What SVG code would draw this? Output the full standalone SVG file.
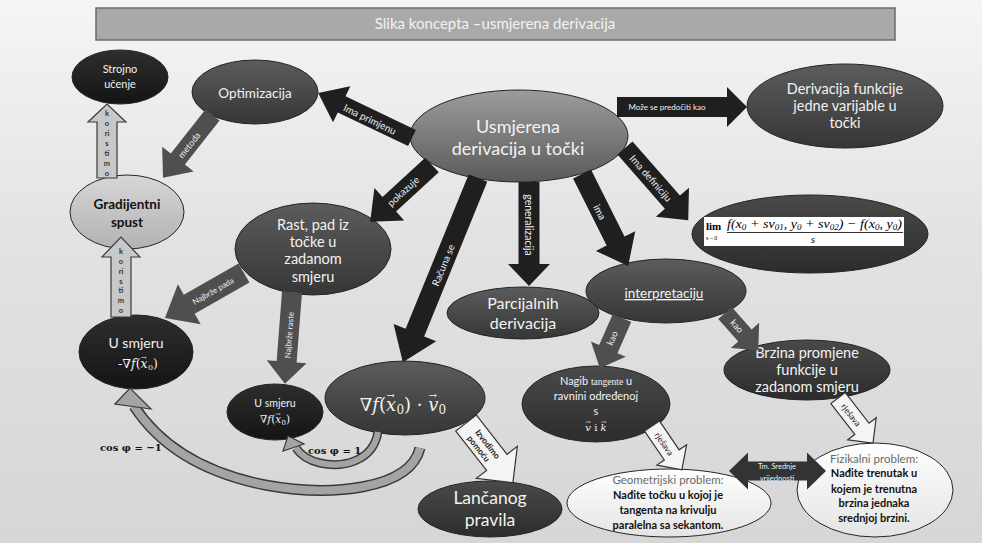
<svg xmlns="http://www.w3.org/2000/svg" width="982" height="543" viewBox="0 0 982 543">
<defs>
<linearGradient id="bg" x1="0" y1="0" x2="0" y2="1"><stop offset="0" stop-color="#f5f5f5"/><stop offset="0.45" stop-color="#e2e2e2"/><stop offset="1" stop-color="#d6d6d6"/></linearGradient>
<linearGradient id="gDark" x1="0" y1="0" x2="0" y2="1"><stop offset="0" stop-color="#5c5c5c"/><stop offset="1" stop-color="#363636"/></linearGradient>
<linearGradient id="gDark2" x1="0" y1="0" x2="0" y2="1"><stop offset="0" stop-color="#4a4a4a"/><stop offset="1" stop-color="#2c2c2c"/></linearGradient>
<linearGradient id="gBlack" x1="0" y1="0" x2="0" y2="1"><stop offset="0" stop-color="#2e2e2e"/><stop offset="1" stop-color="#141414"/></linearGradient>
<linearGradient id="gCenter" x1="0" y1="0" x2="0" y2="1"><stop offset="0" stop-color="#9c9c9c"/><stop offset="1" stop-color="#5a5a5a"/></linearGradient>
<linearGradient id="gLight" x1="0" y1="0" x2="0" y2="1"><stop offset="0" stop-color="#d6d6d6"/><stop offset="1" stop-color="#b2b2b2"/></linearGradient>
<linearGradient id="gWhite" x1="0" y1="0" x2="0" y2="1"><stop offset="0" stop-color="#ffffff"/><stop offset="1" stop-color="#e4e4e4"/></linearGradient>
<style>
.nd{stroke:#252525;stroke-width:1}
.tw{fill:#f2f2f2;font-family:Lato,"Liberation Sans",sans-serif;text-anchor:middle}
.tb{fill:#111;font-family:Lato,"Liberation Sans",sans-serif;text-anchor:middle;font-weight:bold}
.tg{fill:#6a6a6a;font-family:Lato,"Liberation Sans",sans-serif;text-anchor:middle}
.mth{fill:#f2f2f2;font-family:"DejaVu Serif",serif;text-anchor:middle}
.arD{fill:#1f1f1f}
.arM{fill:#4f4f4f}
.arL{fill:#c8c8c8;stroke:#3a3a3a;stroke-width:1.2}
.arW{fill:#f4f4f4;stroke:#333;stroke-width:1.2}
.lb{fill:#eeeeee;font-family:Lato,"Liberation Sans",sans-serif;text-anchor:middle;dominant-baseline:central}
.lk{fill:#222;font-family:Lato,"Liberation Sans",sans-serif;text-anchor:middle;dominant-baseline:central}
.vl{fill:#333;font-family:Lato,"Liberation Sans",sans-serif;text-anchor:middle;font-size:7.5px;font-weight:bold}
.cs{fill:#111;font-family:"DejaVu Serif",serif;font-weight:bold;font-size:10px}
</style>
</defs>
<rect x="0" y="0" width="982" height="543" fill="url(#bg)"/>
<g id="title">
<rect x="96" y="8" width="799" height="32" fill="#a9a9a9" stroke="#6b6b6b" stroke-width="1.5"/>
<text x="495" y="29" class="tw" font-size="15">Slika koncepta –usmjerena derivacija</text>
</g>

<g id="n-strojno"><ellipse cx="120" cy="77" rx="48" ry="27" fill="url(#gBlack)" class="nd"/>
<text class="tw" x="120" y="73" font-size="11">Strojno</text><text class="tw" x="120" y="88" font-size="11">učenje</text></g>

<g id="n-optimizacija"><ellipse cx="255" cy="92" rx="63" ry="32" fill="url(#gDark)" class="nd"/>
<text class="tw" x="255" y="98" font-size="13.5">Optimizacija</text></g>

<g id="n-usmjerena"><ellipse cx="519" cy="136" rx="109" ry="46" fill="url(#gCenter)" class="nd"/>
<text class="tw" x="518" y="133" font-size="18">Usmjerena</text><text class="tw" x="518" y="155" font-size="18">derivacija u točki</text></g>

<g id="n-derivacija-funkcije"><ellipse cx="845" cy="106" rx="98" ry="42" fill="url(#gDark)" class="nd"/>
<text class="tw" x="845" y="94" font-size="14.5">Derivacija funkcije</text>
<text class="tw" x="845" y="111" font-size="14.5">jedne varijable u</text>
<text class="tw" x="845" y="128" font-size="14.5">točki</text></g>

<g id="n-definicija"><ellipse cx="810" cy="234" rx="118" ry="39" fill="url(#gDark2)" class="nd"/>
<rect x="704" y="217" width="200" height="29" fill="#ffffff"/>
<text x="706" y="230" font-family="Liberation Serif,serif" font-weight="bold" font-size="11" fill="#000">lim</text>
<text x="706" y="240" font-family="Liberation Serif,serif" font-size="6" fill="#000">s→0</text>
<text x="727" y="228" font-family="Liberation Serif,serif" font-style="italic" font-size="12.5" fill="#000" textLength="175" lengthAdjust="spacingAndGlyphs">f(x<tspan font-size="8" dy="2">0</tspan><tspan dy="-2"> + sv</tspan><tspan font-size="8" dy="2">01</tspan><tspan dy="-2">, y</tspan><tspan font-size="8" dy="2">0</tspan><tspan dy="-2"> + sv</tspan><tspan font-size="8" dy="2">02</tspan><tspan dy="-2">) − f(x</tspan><tspan font-size="8" dy="2">0</tspan><tspan dy="-2">, y</tspan><tspan font-size="8" dy="2">0</tspan><tspan dy="-2">)</tspan></text>
<line x1="727" y1="232.5" x2="903" y2="232.5" stroke="#000" stroke-width="0.8"/>
<text x="813" y="243" font-family="Liberation Serif,serif" font-style="italic" font-size="11" fill="#000" text-anchor="middle">s</text></g>

<g id="n-gradijentni"><ellipse cx="127" cy="212" rx="57" ry="37" fill="url(#gLight)" class="nd"/>
<text class="tb" x="127" y="209" font-size="13.5" fill="#1a1a1a">Gradijentni</text><text class="tb" x="127" y="227" font-size="13.5">spust</text></g>

<g id="n-rast"><ellipse cx="313" cy="249" rx="78" ry="46" fill="url(#gDark)" class="nd"/>
<text class="tw" x="313" y="230" font-size="14.5">Rast, pad iz</text>
<text class="tw" x="313" y="247" font-size="14.5">točke u</text>
<text class="tw" x="313" y="264" font-size="14.5">zadanom</text>
<text class="tw" x="313" y="282" font-size="14.5">smjeru</text></g>

<g id="n-smjer-minus"><ellipse cx="136" cy="352" rx="57" ry="37" fill="url(#gBlack)" class="nd"/>
<text class="tw" x="136" y="348" font-size="14">U smjeru</text>
<text class="mth" x="138" y="368" font-size="12.5">-∇<tspan font-style="italic">f</tspan>(<tspan font-style="italic">x</tspan><tspan font-size="7" dx="-6.8" dy="-8">→</tspan><tspan font-size="8" dx="1.3" dy="10">0</tspan><tspan dy="-2">)</tspan></text></g>

<g id="n-smjer-plus"><ellipse cx="275" cy="412" rx="48" ry="28" fill="url(#gBlack)" class="nd"/>
<text class="tw" x="275" y="407" font-size="10.5">U smjeru</text>
<text class="mth" x="275" y="423" font-size="10.5">∇<tspan font-style="italic">f</tspan>(<tspan font-style="italic">x</tspan><tspan font-size="6" dx="-5.8" dy="-7">→</tspan><tspan font-size="7" dx="1" dy="9">0</tspan><tspan dy="-2">)</tspan></text></g>

<g id="n-gradijent-v"><ellipse cx="405" cy="398" rx="80" ry="37" fill="url(#gDark)" class="nd"/>
<text class="mth" x="403" y="411" font-size="18">∇<tspan font-style="italic">f</tspan>(<tspan font-style="italic">x</tspan><tspan font-size="10" dx="-10" dy="-12">→</tspan><tspan font-size="12" dx="1.8" dy="15">0</tspan><tspan dy="-3">) · </tspan><tspan font-style="italic">v</tspan><tspan font-size="10" dx="-10" dy="-12">→</tspan><tspan font-size="12" dx="1.8" dy="15">0</tspan></text></g>

<g id="n-parcijalnih"><ellipse cx="523" cy="313" rx="76" ry="26" fill="url(#gDark)" class="nd"/>
<text class="tw" x="523" y="309" font-size="16">Parcijalnih</text><text class="tw" x="523" y="329" font-size="16">derivacija</text></g>

<g id="n-interpretaciju"><ellipse cx="666" cy="291" rx="80" ry="32" fill="url(#gDark)" class="nd"/>
<text class="tw" x="664" y="298" font-size="13.5" text-decoration="underline">interpretaciju</text></g>

<g id="n-nagib"><ellipse cx="596" cy="404" rx="74" ry="38" fill="url(#gDark2)" class="nd"/>
<text class="tw" x="596" y="385" font-size="11">Nagib <tspan font-family="Liberation Serif,serif" font-size="9.5">tangente</tspan> u</text>
<text class="tw" x="596" y="400" font-size="11">ravnini određenoj</text>
<text class="tw" x="596" y="415" font-size="11">s</text>
<text class="mth" x="596" y="431" font-size="10"><tspan font-style="italic">v</tspan><tspan font-size="6" dx="-5.5" dy="-7">→</tspan><tspan dx="0.5" dy="7"> i </tspan><tspan font-style="italic">k</tspan><tspan font-size="6" dx="-5.5" dy="-7">→</tspan></text></g>

<g id="n-brzina"><ellipse cx="807" cy="370" rx="83" ry="30" fill="url(#gDark2)" class="nd"/>
<text class="tw" x="807" y="358" font-size="14.5">Brzina promjene</text>
<text class="tw" x="807" y="375" font-size="14.5">funkcije u</text>
<text class="tw" x="807" y="392" font-size="14.5">zadanom smjeru</text></g>

<g id="n-lancanog"><ellipse cx="490" cy="509" rx="72" ry="28" fill="url(#gDark2)" class="nd"/>
<text class="tw" x="490" y="504" font-size="17.5">Lančanog</text><text class="tw" x="490" y="526" font-size="17.5">pravila</text></g>

<g id="n-geometrijski"><ellipse cx="669" cy="503" rx="102" ry="34" fill="url(#gWhite)" class="nd"/>
<text class="tg" x="668" y="484" font-size="11.5">Geometrijski problem:</text>
<text class="tb" x="668" y="499" font-size="11">Nađite točku u kojoj je</text>
<text class="tb" x="668" y="514" font-size="11">tangenta na krivulju</text>
<text class="tb" x="668" y="529" font-size="11">paralelna sa sekantom.</text></g>

<g id="n-fizikalni"><ellipse cx="875" cy="490" rx="78" ry="47" fill="url(#gWhite)" class="nd"/>
<text class="tg" x="874" y="463" font-size="11.5">Fizikalni problem:</text>
<text class="tb" x="874" y="477" font-size="11">Nađite trenutak u</text>
<text class="tb" x="874" y="493" font-size="11">kojem je trenutna</text>
<text class="tb" x="874" y="507" font-size="11">brzina jednaka</text>
<text class="tb" x="874" y="522" font-size="11">srednjoj brzini.</text></g>

<g id="connectors">
<polygon class="arD" transform="translate(412,138) rotate(205.6)" points="0,-9 78,-9 78,-20 104,0 78,20 78,9 0,9"/>
<text class="lb" font-size="10" transform="translate(370,119) rotate(25.6)">Ima primjenu</text>
<polygon class="arM" fill="#3c3c3c" transform="translate(212.5,115) rotate(128.2)" points="0,-9 56,-9 56,-20 80,0 56,20 56,9 0,9"/>
<text class="lb" font-size="9" transform="translate(189,145) rotate(-51.8)">metoda</text>
<polygon class="arL" points="97,178 97,122 88,122 107,104 126,122 117,122 117,178"/>
<text class="vl" x="107" y="116">k</text><text class="vl" x="107" y="126">o</text><text class="vl" x="107" y="136">ri</text><text class="vl" x="107" y="146">s</text><text class="vl" x="107" y="156">ti</text><text class="vl" x="107" y="166">m</text><text class="vl" x="107" y="176">o</text>
<polygon class="arL" points="111,317 111,257 102,257 121,237 140,257 131,257 131,317"/>
<text class="vl" x="121" y="254">k</text><text class="vl" x="121" y="264">o</text><text class="vl" x="121" y="274">ri</text><text class="vl" x="121" y="284">s</text><text class="vl" x="121" y="293">ti</text><text class="vl" x="121" y="303">m</text><text class="vl" x="121" y="313">o</text>
<polygon class="arD" transform="translate(432,165) rotate(137.4)" points="0,-10 58,-10 58,-22 84,0 58,22 58,10 0,10"/>
<text class="lb" font-size="10" transform="translate(403,191) rotate(-42.6)">pokazuje</text>
<polygon class="arD" transform="translate(478,178) rotate(112.2)" points="0,-10 167,-10 167,-23 199,0 167,23 167,10 0,10"/>
<text class="lb" font-size="10" transform="translate(443,265) rotate(-67.8)">Računa se</text>
<polygon class="arD" points="518.5,182 518.5,264 508,264 529,286 550,264 539.5,264 539.5,182"/>
<text class="lb" font-size="10.5" transform="translate(529,225) rotate(90)">generalizacija</text>
<polygon class="arD" transform="translate(582,174) rotate(63.4)" points="0,-10 75,-10 75,-22 103,0 75,22 75,10 0,10"/>
<text class="lb" font-size="10" transform="translate(600,212) rotate(63.4)">ima</text>
<polygon class="arD" transform="translate(625,148) rotate(48.8)" points="0,-10 72,-10 72,-22 96,0 72,22 72,10 0,10"/>
<text class="lb" font-size="10" transform="translate(651,178) rotate(48.8)">Ima definiciju</text>
<polygon class="arD" points="617,97 727,97 727,87 747,107 727,127 727,117 617,117"/>
<text class="lb" font-size="8" x="667" y="107">Može se predočiti kao</text>
<polygon class="arM" transform="translate(244,273) rotate(150.3)" points="0,-11 63,-11 63,-23 91,0 63,23 63,11 0,11"/>
<text class="lb" font-size="8" transform="translate(213,291) rotate(-29.7)">Najbrže pada</text>
<polygon class="arM" transform="translate(292,292) rotate(94.4)" points="0,-10 70,-10 70,-20 92,0 70,20 70,10 0,10"/>
<text class="lb" font-size="8" transform="translate(289,335) rotate(-85.6)">Najbrže  raste</text>
<polygon class="arM" fill="#585858" transform="translate(622,318) rotate(113.7)" points="0,-10 34,-10 34,-19 55,0 34,19 34,10 0,10"/>
<text class="lb" font-size="9" transform="translate(612,338) rotate(-66.3)">kao</text>
<polygon class="arM" fill="#585858" transform="translate(725,313) rotate(48.3)" points="0,-9 30,-9 30,-19 50,0 30,19 30,9 0,9"/>
<text class="lb" font-size="9" transform="translate(737,326) rotate(48.3)">kao</text>
<polygon class="arW" transform="translate(652,426) rotate(55.7)" points="0,-9 35,-9 35,-18 53,0 35,18 35,9 0,9"/>
<text class="lk" font-size="8.5" transform="translate(664,444) rotate(55.7)">rješava</text>
<polygon class="arW" transform="translate(838,398) rotate(52.1)" points="0,-9 39,-9 39,-18 57,0 39,18 39,9 0,9"/>
<text class="lk" font-size="8.5" transform="translate(851,415) rotate(52.1)">rješava</text>
<polygon class="arW" transform="translate(466,423) rotate(51.9)" points="0,-13 50,-13 50,-26 76,0 50,26 50,13 0,13"/>
<g transform="translate(466,423) rotate(51.9)">
<text class="lk" font-size="8.5" font-weight="bold" x="30" y="-4">Izvodimo</text>
<text class="lk" font-size="8.5" font-weight="bold" x="28" y="6">pomoću</text></g>
<polygon fill="#333" points="729,471 748,452.5 748,461.5 807,461.5 807,452.5 826,471 807,489.5 807,480.5 748,480.5 748,489.5"/>
<text class="lb" font-size="7.5" x="777" y="466">Tm. Srednje</text>
<text class="lb" font-size="7.5" x="777" y="478">vrijednosti</text>
<path d="M 420,448 C 410,490 330,497 265,485 C 200,472 158,443 134,406" fill="none" stroke="#3a3a3a" stroke-width="11"/>
<path d="M 420,448 C 410,490 330,497 265,485 C 200,472 158,443 134,406" fill="none" stroke="#a4a4a4" stroke-width="8"/>
<polygon fill="#a4a4a4" stroke="#3a3a3a" stroke-width="1.2" points="115,404 130,388 151,409"/>
<path d="M 378,432 C 373,462 342,468 320,463 C 307,460 300,454 296,448" fill="none" stroke="#3a3a3a" stroke-width="9"/>
<path d="M 378,432 C 373,462 342,468 320,463 C 307,460 300,454 296,448" fill="none" stroke="#a4a4a4" stroke-width="6"/>
<polygon fill="#a4a4a4" stroke="#3a3a3a" stroke-width="1.2" points="283,451 288,436 304,444"/>
<text class="cs" x="100" y="451">cos φ = −1</text>
<text class="cs" x="308" y="454">cos φ = 1</text>
</g>
</svg>
